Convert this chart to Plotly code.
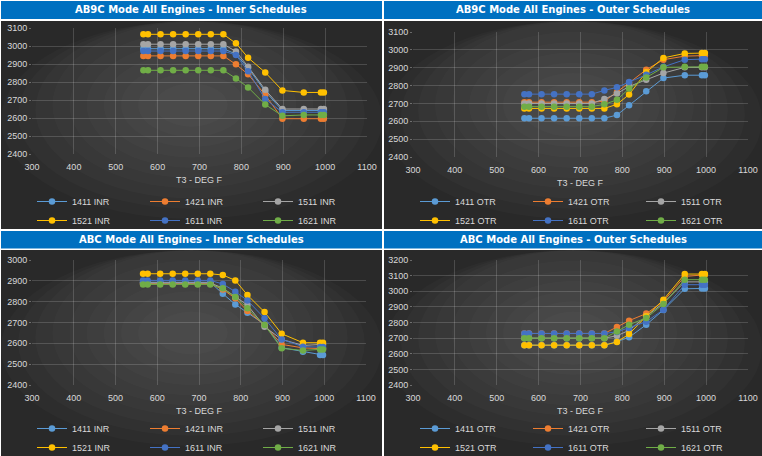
import plotly.graph_objects as go

W, H = 762, 456

# ---------------- data ----------------
T3 = [566, 577, 607, 637, 667, 697, 727, 757, 787, 816, 857, 898, 949, 990, 997]
ENGINES = ["1411", "1421", "1511", "1521", "1611", "1621"]
COLORS = ["#5B9BD5", "#ED7D31", "#A5A5A5", "#FFC000", "#4472C4", "#70AD47"]
X_TICKS = [300, 400, 500, 600, 700, 800, 900, 1000, 1100]

# AB9C mode - inner schedules
ab9c_inr_1411 = [2985, 2985, 2985, 2985, 2985, 2985, 2985, 2985, 2955, 2878, 2748, 2642, 2642, 2642, 2642]
ab9c_inr_1421 = [2945, 2945, 2945, 2945, 2945, 2945, 2945, 2945, 2898, 2843, 2728, 2596, 2596, 2596, 2596]
ab9c_inr_1511 = [3010, 3010, 3010, 3010, 3010, 3010, 3010, 3010, 2970, 2885, 2757, 2650, 2650, 2650, 2650]
ab9c_inr_1521 = [3065, 3065, 3065, 3065, 3065, 3065, 3065, 3065, 3015, 2935, 2853, 2753, 2742, 2742, 2742]
ab9c_inr_1611 = [2972, 2972, 2972, 2972, 2972, 2972, 2972, 2972, 2950, 2860, 2705, 2632, 2632, 2632, 2632]
ab9c_inr_1621 = [2865, 2865, 2865, 2865, 2865, 2865, 2865, 2865, 2820, 2770, 2675, 2612, 2617, 2617, 2617]

# AB9C mode - outer schedules
ab9c_otr_1411 = [2617, 2617, 2617, 2617, 2617, 2617, 2617, 2617, 2635, 2690, 2768, 2842, 2858, 2858, 2858]
ab9c_otr_1421 = [2707, 2707, 2707, 2707, 2707, 2707, 2707, 2712, 2762, 2815, 2889, 2945, 2965, 2968, 2968]
ab9c_otr_1511 = [2700, 2700, 2700, 2700, 2700, 2700, 2700, 2725, 2755, 2795, 2832, 2870, 2902, 2902, 2902]
ab9c_otr_1521 = [2672, 2672, 2672, 2672, 2672, 2672, 2672, 2672, 2695, 2750, 2875, 2955, 2980, 2982, 2982]
ab9c_otr_1611 = [2752, 2752, 2752, 2752, 2752, 2752, 2752, 2773, 2790, 2820, 2860, 2905, 2945, 2948, 2948]
ab9c_otr_1621 = [2682, 2682, 2682, 2682, 2682, 2682, 2682, 2695, 2720, 2783, 2845, 2902, 2905, 2905, 2905]

# ABC mode - inner schedules
abc_inr_1411 = [2893, 2893, 2893, 2893, 2893, 2893, 2893, 2838, 2787, 2747, 2691, 2579, 2560, 2544, 2544]
abc_inr_1421 = [2886, 2886, 2886, 2886, 2886, 2886, 2886, 2859, 2816, 2755, 2688, 2595, 2578, 2575, 2575]
abc_inr_1511 = [2890, 2890, 2890, 2890, 2890, 2890, 2890, 2865, 2822, 2784, 2680, 2619, 2590, 2595, 2595]
abc_inr_1521 = [2934, 2934, 2934, 2934, 2934, 2934, 2934, 2928, 2902, 2832, 2750, 2646, 2603, 2603, 2603]
abc_inr_1611 = [2902, 2902, 2902, 2902, 2902, 2902, 2902, 2885, 2848, 2806, 2720, 2619, 2584, 2582, 2582]
abc_inr_1621 = [2883, 2883, 2883, 2883, 2883, 2883, 2883, 2864, 2822, 2768, 2688, 2576, 2566, 2571, 2571]

# ABC mode - outer schedules
abc_otr_1411 = [2655, 2655, 2655, 2655, 2655, 2655, 2655, 2655, 2678, 2705, 2786, 2880, 3016, 3018, 3018]
abc_otr_1421 = [2730, 2730, 2730, 2730, 2730, 2730, 2730, 2730, 2771, 2812, 2857, 2935, 3095, 3105, 3105]
abc_otr_1511 = [2700, 2700, 2700, 2700, 2700, 2700, 2700, 2700, 2715, 2750, 2840, 2925, 3060, 3060, 3060]
abc_otr_1521 = [2655, 2655, 2655, 2655, 2655, 2655, 2655, 2655, 2675, 2726, 2840, 2946, 3110, 3110, 3110]
abc_otr_1611 = [2730, 2730, 2730, 2730, 2730, 2730, 2730, 2730, 2740, 2765, 2805, 2882, 3042, 3042, 3042]
abc_otr_1621 = [2700, 2700, 2700, 2700, 2700, 2700, 2700, 2700, 2743, 2786, 2829, 2918, 3074, 3074, 3074]

PANELS = [
    dict(title="AB9C Mode All Engines - Inner Schedules", suffix=" INR",
         series=[ab9c_inr_1411, ab9c_inr_1421, ab9c_inr_1511, ab9c_inr_1521, ab9c_inr_1611, ab9c_inr_1621],
         yrange=[2400, 3100], plot=(32, 28, 367, 154), box=(1, 21, 382, 229), bar=(1, 1, 382, 19)),
    dict(title="AB9C Mode All Engines - Outer Schedules", suffix=" OTR",
         series=[ab9c_otr_1411, ab9c_otr_1421, ab9c_otr_1511, ab9c_otr_1521, ab9c_otr_1611, ab9c_otr_1621],
         yrange=[2400, 3100], plot=(413, 32, 748, 157), box=(384, 21, 762, 229), bar=(384, 1, 762, 19)),
    dict(title="ABC Mode All Engines - Inner Schedules", suffix=" INR",
         series=[abc_inr_1411, abc_inr_1421, abc_inr_1511, abc_inr_1521, abc_inr_1611, abc_inr_1621],
         yrange=[2400, 3000], plot=(32, 260, 366, 385), box=(1, 250, 382, 456), bar=(1, 231, 382, 248.5)),
    dict(title="ABC Mode All Engines - Outer Schedules", suffix=" OTR",
         series=[abc_otr_1411, abc_otr_1421, abc_otr_1511, abc_otr_1521, abc_otr_1611, abc_otr_1621],
         yrange=[2400, 3200], plot=(413, 260, 748, 385), box=(384, 250, 762, 456), bar=(384, 231, 762, 248.5)),
]

FONT = "Liberation Sans"
TXT = "#d9d9d9"
LEGEND_COLUMN = ["c1", "c2", "c3", "c1", "c2", "c3"]   # 3 columns x 2 rows


def px(x):
    return x / W


def py(y):
    return 1 - y / H


fig = go.Figure()
shapes = []
annotations = []
layout = {}

for i, p in enumerate(PANELS):
    n = "" if i == 0 else str(i + 1)
    x0, y0, x1, y1 = p["plot"]
    bx0, by0, bx1, by1 = p["box"]
    # dark panel background with a soft radial glow
    shapes.append(dict(type="rect", xref="paper", yref="paper", layer="below",
                       x0=px(bx0), x1=px(bx1), y0=py(by1), y1=py(by0),
                       fillcolor="#292929", line=dict(width=0)))
    cx, cy = (bx0 + bx1) / 2, (by0 + by1) / 2 - 20
    rw, rh = (bx1 - bx0) / 2, (by1 - by0) / 2 + 10
    for k in range(10):
        f = 1 - k * 0.09
        shapes.append(dict(type="circle", xref="paper", yref="paper", layer="below",
                           x0=px(cx - rw * f), x1=px(cx + rw * f),
                           y0=py(min(by1, cy + rh * f)), y1=py(max(by0, cy - rh * f)),
                           fillcolor="rgba(255,255,255,0.018)", line=dict(width=0)))
    # title bar
    tx0, ty0, tx1, ty1 = p["bar"]
    shapes.append(dict(type="rect", xref="paper", yref="paper", layer="below",
                       x0=px(tx0), x1=px(tx1), y0=py(ty1), y1=py(ty0),
                       fillcolor="#0070C0", line=dict(width=0)))
    annotations.append(dict(xref="paper", yref="paper", x=px((tx0 + tx1) / 2), y=py((ty0 + ty1) / 2),
                            text="<b>" + p["title"] + "</b>", showarrow=False,
                            xanchor="center", yanchor="middle",
                            font=dict(family="DejaVu Sans", size=10, color="white")))
    # x-axis title
    annotations.append(dict(xref="paper", yref="paper", x=px((x0 + x1) / 2), y=py(y1 + 26),
                            text="T3 - DEG F", showarrow=False, xanchor="center", yanchor="middle",
                            font=dict(family=FONT, size=9, color=TXT)))

    layout["xaxis" + n] = dict(domain=[px(x0), px(x1)], range=[300, 1100], tickvals=X_TICKS,
                               anchor="y" + n, showgrid=True, gridcolor="rgba(255,255,255,0.16)",
                               gridwidth=1, zeroline=False, showline=False, ticks="",
                               ticklabeloverflow="allow", ticklabelstandoff=6,
                               tickfont=dict(family=FONT, size=9, color=TXT), fixedrange=True)
    layout["yaxis" + n] = dict(domain=[py(y1), py(y0)], range=p["yrange"], dtick=100,
                               anchor="x" + n, showgrid=True, gridcolor="rgba(255,255,255,0.16)",
                               gridwidth=1, zeroline=False, showline=False, ticks="outside",
                               ticklen=2, tickcolor="rgba(255,255,255,0.3)",
                               tickfont=dict(family=FONT, size=9, color=TXT), fixedrange=True)
    leg = "legend" + n
    if by1 >= H:
        ly, lanchor = py(H + 6), "bottom"
    else:
        ly, lanchor = py(by0 + 166), "top"
    layout[leg] = dict(orientation="h", traceorder="grouped", groupclick="toggleitem",
                       x=px(bx0 + 31), y=ly, xanchor="left", yanchor=lanchor,
                       entrywidth=68, entrywidthmode="pixels", bgcolor="rgba(0,0,0,0)",
                       font=dict(family=FONT, size=9, color=TXT), tracegroupgap=0,
                       itemwidth=30, borderwidth=0)

    for name, color, vals, grp in zip(ENGINES, COLORS, p["series"], LEGEND_COLUMN):
        fig.add_trace(go.Scatter(x=T3, y=vals, name=name + p["suffix"], mode="lines+markers",
                                 line=dict(color=color, width=1),
                                 marker=dict(color=color, size=6.5, line=dict(width=0)),
                                 legendgroup=grp, xaxis="x" + n, yaxis="y" + n, legend=leg))

fig.update_layout(width=W, height=H, margin=dict(l=0, r=0, t=0, b=0, autoexpand=False),
                  paper_bgcolor="white", plot_bgcolor="rgba(0,0,0,0)",
                  shapes=shapes, annotations=annotations, **layout)

fig.write_html("out.html", config={"displayModeBar": False},
               post_script="document.body.style.margin='0';document.body.style.overflow='hidden';")
